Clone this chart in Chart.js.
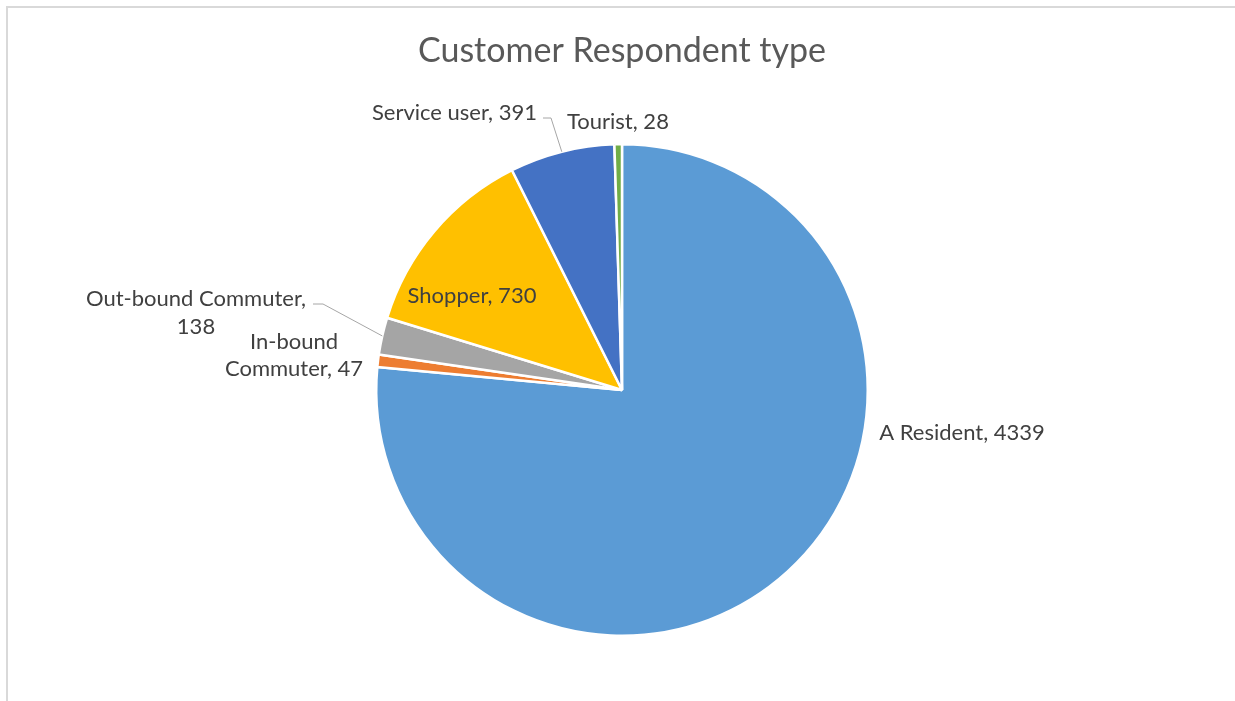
<!DOCTYPE html>
<html>
<head>
<meta charset="utf-8">
<script src="https://cdn.jsdelivr.net/npm/chart.js@4.4.1/dist/chart.umd.min.js"></script>
<style>
  html, body { margin: 0; padding: 0; background: #ffffff; overflow: hidden; }
  #wrap { position: relative; width: 1235px; height: 701px; overflow: hidden; }
  canvas { display: block; }
</style>
</head>
<body>
<div id="wrap"><canvas id="c" width="1235" height="701"></canvas></div>
<script>
const title = "Customer Respondent type";
const categories = ["A Resident", "In-bound Commuter", "Out-bound Commuter", "Shopper", "Service user", "Tourist"];
const values = [4339, 47, 138, 730, 391, 28];
const colors = ["#5B9BD5", "#ED7D31", "#A5A5A5", "#FFC000", "#4472C4", "#70AD47"];

// label layout (offsets from pie centre, px), line break after n words, leader line
const labelLayout = [
  { dx: 340, dy: 43, align: "center", brk: 0 },
  { dx: -328, dy: -35, align: "center", brk: 1, lh: 27 },
  { dx: -426, dy: -77, align: "center", brk: 2, lh: 28, leader: { x: -309, y: -86, h: 10 } },
  { dx: -150, dy: -94, align: "center", brk: 0 },
  { dx: -85, dy: -277, align: "right", brk: 0, leader: { x: -79, y: -272, h: 8 } },
  { dx: -55, dy: -268, align: "left", brk: 0 }
];

const FONT = "Lato, 'Open Sans', sans-serif";

const decor = {
  id: "decor",
  beforeDraw(chart) {
    const ctx = chart.ctx;
    ctx.save();
    ctx.strokeStyle = "#d9d9d9";
    ctx.lineWidth = 2;
    ctx.beginPath();
    ctx.moveTo(7, 701);
    ctx.lineTo(7, 7);
    ctx.lineTo(1235, 7);
    ctx.stroke();
    ctx.restore();
  },
  afterDraw(chart) {
    const ctx = chart.ctx;
    const meta = chart.getDatasetMeta(0);
    const arc0 = meta.data[0];
    const cx = arc0.x, cy = arc0.y;
    ctx.save();
    // title
    ctx.fillStyle = "#595959";
    ctx.font = "34px " + FONT;
    ctx.textAlign = "center";
    ctx.textBaseline = "middle";
    ctx.fillText(title, cx, 51);

    ctx.font = "22px " + FONT;
    ctx.fillStyle = "#404040";
    meta.data.forEach((arc, i) => {
      const L = labelLayout[i];
      const words = (categories[i] + ", " + values[i]).split(" ");
      let lines;
      if (L.brk > 0) {
        lines = [words.slice(0, L.brk).join(" "), words.slice(L.brk).join(" ")];
      } else {
        lines = [words.join(" ")];
      }
      const lh = L.lh || 27;
      ctx.textAlign = L.align;
      ctx.textBaseline = "middle";
      const y0 = cy + L.dy - (lines.length - 1) * lh / 2;
      lines.forEach((t, k) => ctx.fillText(t, cx + L.dx, y0 + k * lh));
      if (L.leader) {
        const mid = (arc.startAngle + arc.endAngle) / 2;
        const ex = arc.x + Math.cos(mid) * arc.outerRadius;
        const ey = arc.y + Math.sin(mid) * arc.outerRadius;
        ctx.strokeStyle = "#A6A6A6";
        ctx.lineWidth = 1;
        ctx.beginPath();
        ctx.moveTo(cx + L.leader.x, cy + L.leader.y);
        ctx.lineTo(cx + L.leader.x + L.leader.h, cy + L.leader.y);
        ctx.lineTo(ex, ey);
        ctx.stroke();
      }
    });
    ctx.restore();
  }
};

new Chart(document.getElementById("c"), {
  type: "pie",
  data: {
    labels: categories,
    datasets: [{
      data: values,
      backgroundColor: colors,
      borderColor: "#ffffff",
      borderWidth: 2.5
    }]
  },
  options: {
    responsive: false,
    animation: false,
    layout: { padding: { left: 375, right: 366, top: 143, bottom: 64 } },
    plugins: {
      legend: { display: false },
      title: { display: false },
      tooltip: { enabled: false }
    }
  },
  plugins: [decor]
});
</script>
</body>
</html>
